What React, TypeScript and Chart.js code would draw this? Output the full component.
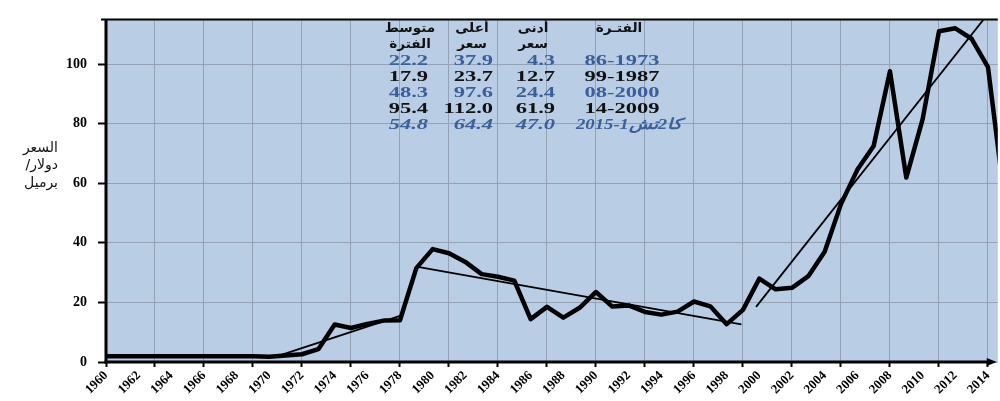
import React, { useEffect, useRef } from 'react';
import { Chart, registerables } from 'chart.js';

Chart.register(...registerables);

// ---------- data ----------
const years = [
  1960, 1961, 1962, 1963, 1964, 1965, 1966, 1967, 1968, 1969,
  1970, 1971, 1972, 1973, 1974, 1975, 1976, 1977, 1978, 1979,
  1980, 1981, 1982, 1983, 1984, 1985, 1986, 1987, 1988, 1989,
  1990, 1991, 1992, 1993, 1994, 1995, 1996, 1997, 1998, 1999,
  2000, 2001, 2002, 2003, 2004, 2005, 2006, 2007, 2008, 2009,
  2010, 2011, 2012, 2013, 2014, 2015,
];
const prices = [
  1.9, 1.9, 1.9, 1.9, 1.9, 1.9, 1.9, 1.9, 1.9, 1.9,
  1.8, 2.2, 2.6, 4.3, 12.6, 11.4, 12.8, 13.9, 14.0, 31.5,
  37.9, 36.5, 33.6, 29.5, 28.6, 27.3, 14.4, 18.5, 14.9, 18.2,
  23.5, 18.6, 19.0, 16.8, 15.9, 16.9, 20.3, 18.7, 12.7, 17.5,
  28.0, 24.4, 24.9, 28.8, 37.0, 53.0, 64.5, 72.5, 97.6, 61.9,
  81.5, 111.0, 112.0, 108.5, 99.0, 55.0,
];
const trend1Years = [1970.5, 1978];
const trend1Values = [2.0, 15.5];
const trend2Years = [1979, 1998.9];
const trend2Values = [32.0, 12.6];
const trend3Years = [1999.8, 2014.6];
const trend3Values = [18.5, 121.0];

const xTickYears = [
  1960, 1961, 1962, 1963, 1964, 1965, 1966, 1967, 1968, 1969,
  1970, 1971, 1972, 1973, 1974, 1975, 1976, 1977, 1978, 1979,
  1980, 1981, 1982, 1983, 1984, 1985, 1986, 1987, 1988, 1989,
  1990, 1991, 1992, 1993, 1994, 1995, 1996, 1997, 1998, 1999,
  2000, 2001, 2002, 2003, 2004, 2005, 2006, 2007, 2008, 2009,
  2010, 2011, 2012, 2013, 2014,
];
const xLabelYears = [
  1960, 1962, 1964, 1966, 1968, 1970, 1972, 1974, 1976, 1978,
  1980, 1982, 1984, 1986, 1988, 1990, 1992, 1994, 1996, 1998,
  2000, 2002, 2004, 2006, 2008, 2010, 2012, 2014,
];
const xGridYears = [
  1960, 1963, 1966, 1969, 1972, 1975, 1978, 1981, 1984, 1987,
  1990, 1993, 1996, 1999, 2002, 2005, 2008, 2011, 2014,
];
const yTicks = [0, 20, 40, 60, 80, 100];

const yTitleLines = ['السعر', 'دولار/', 'برميل'];

const headerLine1 = ['متوسط', 'أعلى', 'أدنى', 'الفتـرة'];
const headerLine2 = ['الفترة', 'سعر', 'سعر', ''];
const avgPrice = ['22.2', '17.9', '48.3', '95.4', '54.8'];
const maxPrice = ['37.9', '23.7', '97.6', '112.0', '64.4'];
const minPrice = ['4.3', '12.7', '24.4', '61.9', '47.0'];
const periods = ['86-1973', '99-1987', '08-2000', '14-2009', 'كا2تش1-2015'];

// ---------- style / layout ----------
const PLOT_BG = '#b9cde5';
const GRID = '#95a2b5';
const BLUE_TEXT = '#3a5f9a';
const BLACK_TEXT = '#111111';
const rowColors = [BLUE_TEXT, BLACK_TEXT, BLUE_TEXT, BLACK_TEXT, BLUE_TEXT];
const rowItalic = [false, false, false, false, true];

function drawStretched(
  ctx: CanvasRenderingContext2D,
  text: string,
  x: number,
  y: number,
  align: CanvasTextAlign,
  sx: number,
  font: string,
  color: string,
  dir: CanvasDirection = 'ltr'
) {
  ctx.save();
  ctx.translate(x, y);
  ctx.scale(sx, 1);
  ctx.font = font;
  ctx.fillStyle = color;
  ctx.textAlign = align;
  ctx.textBaseline = 'middle';
  ctx.direction = dir;
  ctx.fillText(text, 0, 0);
  ctx.restore();
}

const decorPlugin = {
  id: 'decor',
  beforeDraw(chart: any) {
    const { ctx, chartArea } = chart;
    ctx.save();
    ctx.fillStyle = '#ffffff';
    ctx.fillRect(0, 0, chart.width, chart.height);
    ctx.fillStyle = PLOT_BG;
    ctx.fillRect(chartArea.left, chartArea.top, chartArea.right - chartArea.left, chartArea.bottom - chartArea.top);
    ctx.restore();
  },
  afterDraw(chart: any) {
    const { ctx, chartArea } = chart;
    const { left, right, top, bottom } = chartArea;
    ctx.save();
    ctx.strokeStyle = '#000';
    ctx.lineWidth = 2;
    ctx.beginPath();
    ctx.moveTo(left - 5, top);
    ctx.lineTo(right, top);
    ctx.stroke();
    ctx.lineWidth = 3;
    ctx.beginPath();
    ctx.moveTo(left, top);
    ctx.lineTo(left, bottom + 1.5);
    ctx.stroke();
    ctx.beginPath();
    ctx.moveTo(left - 1.5, bottom);
    ctx.lineTo(right - 6, bottom);
    ctx.stroke();
    ctx.fillStyle = '#000';
    ctx.beginPath();
    ctx.moveTo(right - 1, bottom);
    ctx.lineTo(right - 11, bottom - 4);
    ctx.lineTo(right - 11, bottom + 4);
    ctx.closePath();
    ctx.fill();
    ctx.restore();

    // y axis title
    const yTitleY = [148, 165, 183];
    yTitleLines.forEach((t, i) => {
      drawStretched(ctx, t, 58, yTitleY[i], 'right', 1, '14px "DejaVu Sans"', '#111', 'rtl');
    });

    // table
    const arFont = 'bold 13px "DejaVu Sans"';
    const headerX = [410, 472, 533, 619];
    headerLine1.forEach((t, i) => {
      drawStretched(ctx, t, headerX[i], 29, 'center', 1.05, arFont, BLACK_TEXT, 'rtl');
    });
    headerLine2.forEach((t, i) => {
      if (t) drawStretched(ctx, t, headerX[i], 45, 'center', 1.05, arFont, BLACK_TEXT, 'rtl');
    });
    const rowY = [61, 77, 93, 109, 125];
    const sx = 1.5;
    for (let r = 0; r < rowY.length; r++) {
      const font = (rowItalic[r] ? 'italic ' : '') + 'bold 15px "Liberation Serif", "DejaVu Sans"';
      const c = rowColors[r];
      drawStretched(ctx, avgPrice[r], 428, rowY[r], 'right', sx, font, c);
      drawStretched(ctx, maxPrice[r], 493, rowY[r], 'right', sx, font, c);
      drawStretched(ctx, minPrice[r], 555, rowY[r], 'right', sx, font, c);
      drawStretched(ctx, periods[r], r === 4 ? 629 : 622, rowY[r], 'center', r === 4 ? 1.25 : sx, font, c);
    }
  },
};

export default function App() {
  const canvasRef = useRef<HTMLCanvasElement | null>(null);

  useEffect(() => {
    if (!canvasRef.current) return;
    const mk = (xs: number[], ys: number[]) => xs.map((x, i) => ({ x, y: ys[i] }));
    const chart = new Chart(canvasRef.current, {
      type: 'line',
      data: {
        datasets: [
          {
            data: mk(years, prices),
            borderColor: '#000',
            borderWidth: 4.5,
            pointRadius: 0,
            tension: 0,
            borderJoinStyle: 'round',
            borderCapStyle: 'round',
          },
          { data: mk(trend1Years, trend1Values), borderColor: '#000', borderWidth: 1.8, pointRadius: 0, tension: 0 },
          { data: mk(trend2Years, trend2Values), borderColor: '#000', borderWidth: 1.8, pointRadius: 0, tension: 0 },
          { data: mk(trend3Years, trend3Values), borderColor: '#000', borderWidth: 1.8, pointRadius: 0, tension: 0 },
        ],
      },
      options: {
        animation: false,
        responsive: true,
        maintainAspectRatio: false,
        layout: { padding: { top: 7, right: 0, left: 0, bottom: 0 } },
        plugins: { legend: { display: false }, tooltip: { enabled: false } },
        scales: {
          x: {
            type: 'linear',
            min: 1960,
            max: 2014.6,
            afterBuildTicks: (scale: any) => {
              scale.ticks = xTickYears.map((v) => ({ value: v }));
            },
            afterFit: (scale: any) => {
              scale.height = 39;
            },
            ticks: {
              autoSkip: false,
              minRotation: 45,
              maxRotation: 45,
              padding: 1,
              color: '#000',
              font: { family: '"Liberation Serif"', weight: 'bold', size: 13 },
              callback: (v: any) => (xLabelYears.includes(Number(v)) ? String(v) : ''),
            },
            grid: {
              color: (c: any) => (c.tick && xGridYears.includes(c.tick.value) ? GRID : 'rgba(0,0,0,0)'),
              tickColor: (c: any) => (c.tick && xGridYears.includes(c.tick.value) ? '#000' : 'rgba(0,0,0,0)'),
              lineWidth: 1,
              tickWidth: 2,
              tickLength: 5,
            },
            border: { display: false },
          },
          y: {
            type: 'linear',
            min: 0,
            max: 115,
            afterBuildTicks: (scale: any) => {
              scale.ticks = yTicks.map((v) => ({ value: v }));
            },
            afterFit: (scale: any) => {
              scale.width = 106;
            },
            ticks: {
              padding: 11,
              color: '#000',
              font: { family: '"Liberation Serif"', weight: 'bold', size: 14 },
            },
            grid: {
              color: GRID,
              tickColor: '#000',
              lineWidth: 1,
              tickWidth: 2,
              tickLength: 8,
            },
            border: { display: false },
          },
        },
      } as any,
      plugins: [decorPlugin],
    });
    return () => chart.destroy();
  }, []);

  return (
    <div style={{ position: 'fixed', left: 0, top: 0, width: 1000, height: 401, background: '#fff' }}>
      <canvas ref={canvasRef} />
    </div>
  );
}
